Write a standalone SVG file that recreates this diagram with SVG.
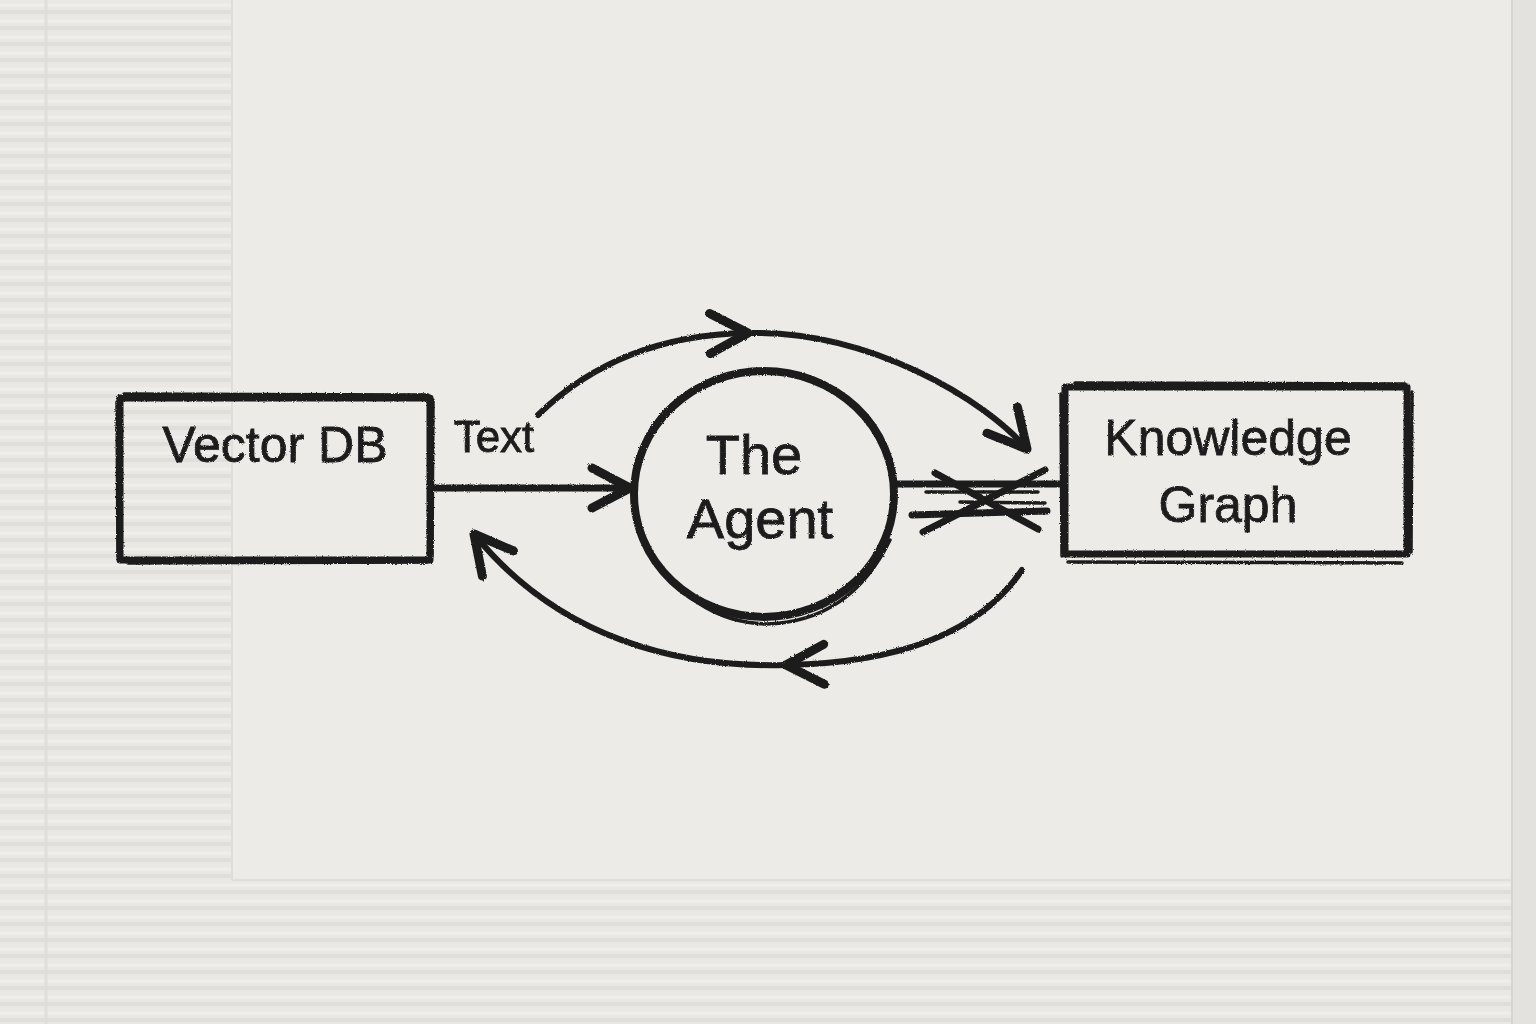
<svg xmlns="http://www.w3.org/2000/svg" width="1536" height="1024" viewBox="0 0 1536 1024">
  <defs>
    <pattern id="ribs" width="16" height="16" patternUnits="userSpaceOnUse">
      <rect width="16" height="16" fill="#eae8e4"/>
      <line x1="0" y1="12" x2="16" y2="12" stroke="#e0deda" stroke-width="4"/>
      <line x1="0" y1="5" x2="16" y2="5" stroke="#f0eeeb" stroke-width="3"/>
    </pattern>
    <filter id="rough" x="-20%" y="-30%" width="140%" height="160%">
      <feTurbulence type="fractalNoise" baseFrequency="0.9" numOctaves="2" seed="3" result="n"/>
      <feDisplacementMap in="SourceGraphic" in2="n" scale="2.5"/>
    </filter>
    <marker id="chev" markerUnits="userSpaceOnUse" viewBox="-46 -26 52 52" markerWidth="52" markerHeight="52" refX="0" refY="0" orient="auto">
      <path d="M-38,-20 L0,0 L-38,20" fill="none" stroke="#1d1d1d" stroke-width="9" stroke-linecap="round" stroke-linejoin="round"/>
    </marker>
  </defs>
  <style>
    .ink { fill: none; stroke: #1d1d1d; stroke-linecap: round; stroke-linejoin: round; }
    .box { stroke-width: 7; }
    .thin { stroke-width: 3.5; }
    .arc { stroke-width: 6; }
    .lbl { font-family: "Liberation Sans", "DejaVu Sans", sans-serif; fill: #1d1d1d; stroke: #1d1d1d; stroke-width: 0.8; text-anchor: middle; }
  </style>

  <!-- napkin background -->
  <rect x="0" y="0" width="1536" height="1024" fill="#ecebe7"/>
  <rect x="0" y="0" width="232" height="1024" fill="url(#ribs)"/>
  <rect x="0" y="880" width="1512" height="144" fill="url(#ribs)"/>
  <line x1="46" y1="0" x2="46" y2="1024" stroke="#e0deda" stroke-width="3"/>
  <line x1="232" y1="0" x2="232" y2="880" stroke="#e0deda" stroke-width="2"/>
  <line x1="232" y1="880" x2="1512" y2="880" stroke="#e0deda" stroke-width="2"/>
  <rect x="1512" y="0" width="24" height="1024" fill="#e4e2de"/>
  <line x1="1512" y1="0" x2="1512" y2="1024" stroke="#d6d4d0" stroke-width="2"/>

  <g filter="url(#rough)">
    <!-- connectors -->
    <g id="connectors">
      <path id="e-vector-agent" class="ink box" d="M432,488 L630,488" marker-end="url(#chev)"/>
      <path id="e-top-1" class="ink arc" d="M538,415 Q620,335 748,333" marker-end="url(#chev)"/>
      <path id="e-top-2" class="ink arc" d="M748,333 C870,330 985,400 1027,449" marker-end="url(#chev)"/>
      <path id="e-bottom-1" class="ink arc" d="M1022,570 Q960,662 786,665" marker-end="url(#chev)"/>
      <path id="e-bottom-2" class="ink arc" d="M786,665 C680,668 560,640 474,534" marker-end="url(#chev)"/>
      <g id="e-agent-kg-crossed">
        <path class="ink box" d="M895,484 L1063,484"/>
        <path class="ink thin" d="M926,492 L1038,492"/>
        <path class="ink box" d="M935,473 L1038,529"/>
        <path class="ink box" d="M923,532 L1045,470"/>
        <path class="ink box" d="M912,515 L1047,511"/>
        <path class="ink thin" d="M960,502 L1045,503"/>
      </g>
    </g>

    <!-- nodes -->
    <g id="node-vector-db">
      <rect class="ink box" x="120" y="398" width="310" height="162"/>
      <path class="ink thin" d="M124,394 L428,395 M117,402 L118,556 M128,563 L427,562 M433,400 L432,556"/>
      <text class="lbl" x="275" y="462" font-size="50">Vector DB</text>
    </g>

    <g id="label-text">
      <text class="lbl" x="494" y="452" font-size="44">Text</text>
    </g>

    <g id="node-agent">
      <ellipse class="ink" stroke-width="8" cx="764" cy="494" rx="130" ry="123"/>
      <path class="ink thin" d="M642,540 Q690,622 766,624 Q850,622 890,540"/>
      <text class="lbl" x="754" y="474" font-size="56">The</text>
      <text class="lbl" x="760" y="538" font-size="56">Agent</text>
    </g>

    <g id="node-knowledge-graph">
      <rect class="ink box" x="1065" y="387" width="342" height="167"/>
      <path class="ink thin" d="M1075,383 L1405,384 M1068,562 L1402,563 M1412,392 L1411,552 M1061,394 L1062,556"/>
      <text class="lbl" x="1228" y="455" font-size="50">Knowledge</text>
      <text class="lbl" x="1228" y="522" font-size="50">Graph</text>
    </g>
  </g>
</svg>
